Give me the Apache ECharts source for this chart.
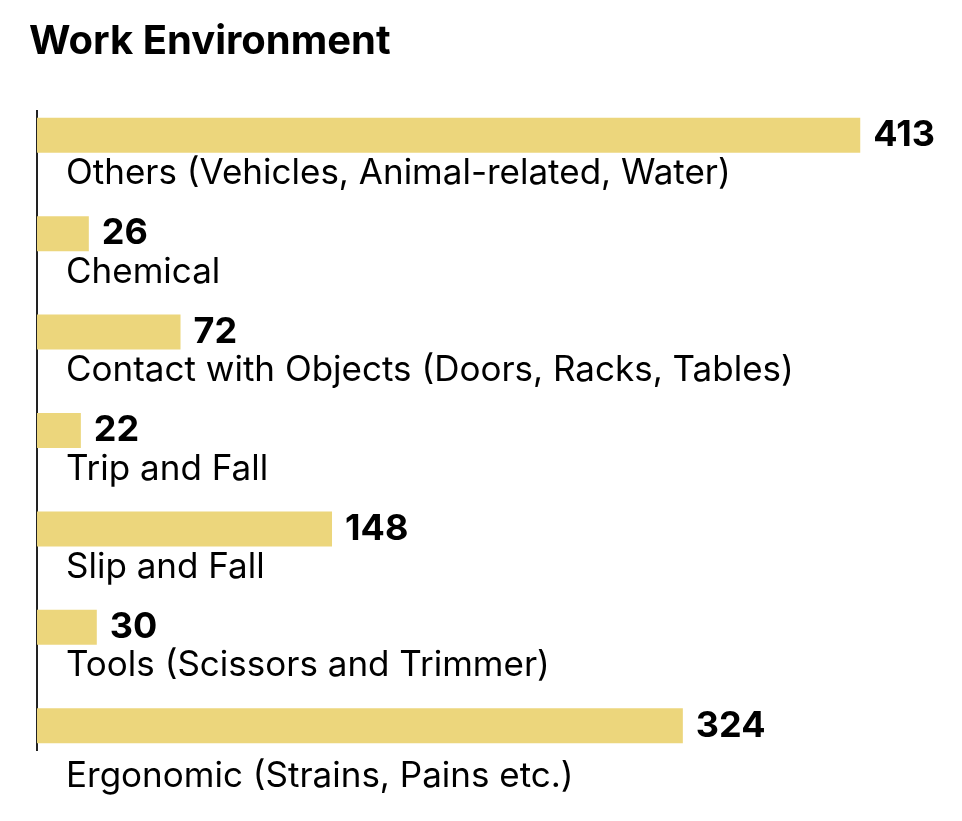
<!DOCTYPE html>
<html>
<head>
<meta charset="utf-8">
<script src="https://cdn.jsdelivr.net/npm/echarts@6/dist/echarts.min.js"></script>
<style>
html,body{margin:0;padding:0;background:#fff;}
#chart{width:962px;height:821px;}
</style>
</head>
<body>
<div id="chart"></div>
<script>
const title = 'Work Environment';
const categories = [
  'Others (Vehicles, Animal-related, Water)',
  'Chemical',
  'Contact with Objects (Doors, Racks, Tables)',
  'Trip and Fall',
  'Slip and Fall',
  'Tools (Scissors and Trimmer)',
  'Ergonomic (Strains, Pains etc.)'
];
const values = [413, 26, 72, 22, 148, 30, 324];

const labelFont = {fontFamily: 'Inter', fontSize: 35, color: '#000'};

const chart = echarts.init(document.getElementById('chart'), null, {renderer: 'canvas'});
chart.setOption({
  backgroundColor: '#ffffff',
  animation: false,
  title: {
    text: title,
    left: 24,
    top: 17,
    textStyle: {fontFamily: 'Inter', fontSize: 40, fontWeight: 'bold', color: '#000'}
  },
  grid: {left: 37, right: 28, top: 86, height: 689, containLabel: false},
  xAxis: {
    type: 'value', min: 0, max: 450,
    show: false
  },
  yAxis: {
    type: 'category',
    data: categories,
    inverse: true,
    axisLine: {show: false},
    axisTick: {show: false},
    splitLine: {show: false},
    axisLabel: {
      inside: true,
      margin: 29,
      align: 'left',
      verticalAlign: 'top',
      padding: [21, 0, 0, 0],
      fontFamily: 'Inter',
      fontSize: 35,
      color: '#000',
      formatter: function (v, i) {
        return (i === categories.length - 1 ? '{last|' : '{n|') + v + '}';
      },
      rich: {
        n: Object.assign({}, labelFont),
        last: Object.assign({padding: [12, 0, 0, 0]}, labelFont)
      }
    }
  },
  graphic: [{
    type: 'line',
    shape: {x1: 37, y1: 110, x2: 37, y2: 751},
    style: {stroke: '#222', lineWidth: 2}
  }],
  series: [{
    type: 'bar',
    data: values,
    barWidth: 35,
    itemStyle: {color: '#ECD67C'},
    label: {
      show: true,
      position: 'right',
      distance: 13,
      fontFamily: 'Inter',
      fontSize: 36,
      fontWeight: 'bold',
      color: '#000'
    }
  }]
});
</script>
</body>
</html>
